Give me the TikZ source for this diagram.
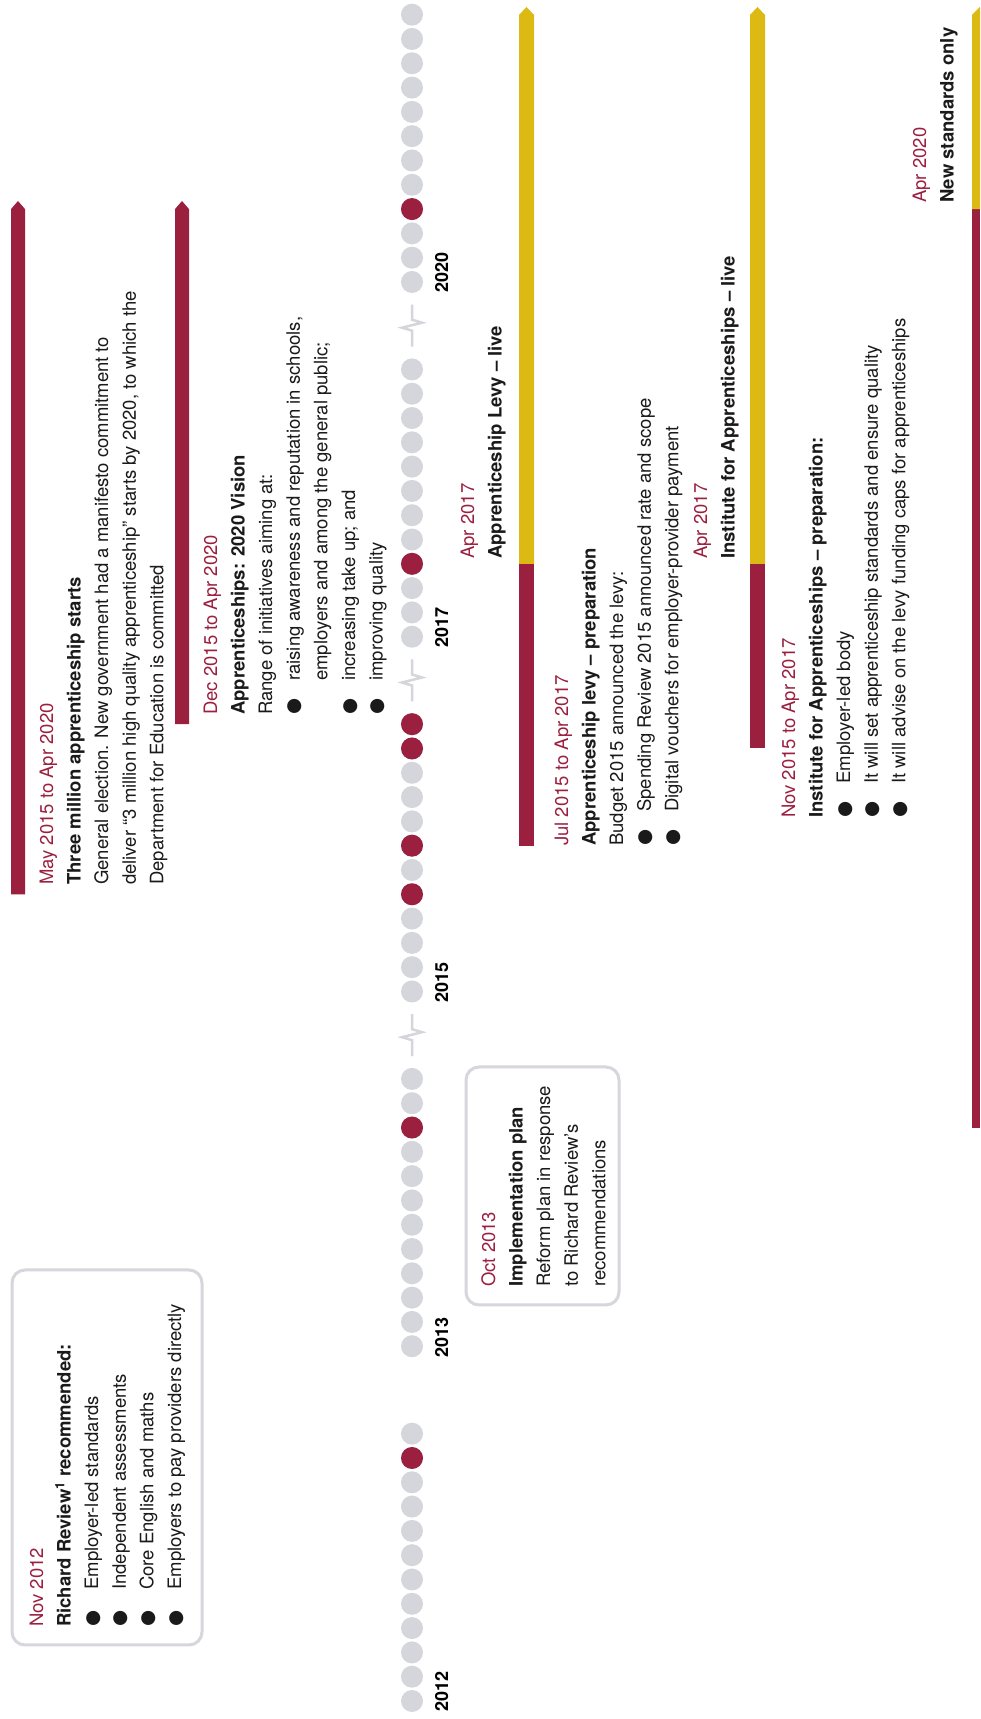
\documentclass[tikz,border=0pt]{standalone}
\usepackage{fontspec}
\setmainfont{TeX Gyre Heros}
\newfontfamily\dejavu{DejaVu Sans}
\usetikzlibrary{backgrounds}
\definecolor{dred}{HTML}{9B2040}
\definecolor{lred}{HTML}{A8334F}
\definecolor{dgold}{HTML}{DDB913}
\definecolor{dotgray}{HTML}{D5D5DC}
\definecolor{boxgray}{HTML}{D6D6DD}
\definecolor{ink}{HTML}{1A1A1A}
\newcommand{\li}[2][34pt]{\makebox[#1][l]{{\dejavu ●}}#2}
\newcommand{\dt}[1]{\textcolor{dred}{#1}}
\tikzset{
  gdot/.style={circle, fill=dotgray, minimum size=22pt, inner sep=0pt},
  rdot/.style={circle, fill=dred, minimum size=22pt, inner sep=0pt},
  conn/.style={draw=lred, line width=1.4pt},
  txt/.style={anchor=base west, inner sep=0pt, align=left, text=ink, font=\fontsize{18.5}{27.6}\selectfont},
  yearlbl/.style={anchor=base west, inner sep=0pt, text=black, font=\bfseries\fontsize{18}{20}\selectfont},
  rbox/.style={draw=boxgray, line width=3pt, rounded corners=13pt, fill=white, inner sep=0pt},
  brk/.style={draw=dotgray, line width=2.5pt, line join=miter},
}
\begin{document}
\begin{tikzpicture}[x=1pt,y=1pt]
\fill[white] (0,0) rectangle (980,1719);
\useasboundingbox (0,0) rectangle (980,1719);
\begin{scope}[rotate=90, transform shape]
  % ---- grey month dots ----
  \foreach \k/\j in {0/18,1/372.75,2/727.5,3/1082.25,4/1437}{
    \foreach \m in {0,...,11}{
      \node[gdot] (g\k-\m) at ({\j+24.3*\m},-412) {};
    }
  }
  % ---- red event dots ----
  \node[rdot] (d2012nov) at (261,-412) {};
  \node[rdot] (d2013oct) at (591.45,-412) {};
  \node[rdot] (d2015may) at (824.7,-412) {};
  \node[rdot] (d2015jul) at (873.3,-412) {};
  \node[rdot] (d2015nov) at (970.5,-412) {};
  \node[rdot] (d2015dec) at (994.8,-412) {};
  \node[rdot] (d2017apr) at (1155.15,-412) {};
  \node[rdot] (d2020apr) at (1509.9,-412) {};
  % ---- year labels ----
  \node[yearlbl] (y2012) at (7,-448) {2012};
  \node[yearlbl] (y2013) at (361.75,-448) {2013};
  \node[yearlbl] (y2015) at (716.5,-448) {2015};
  \node[yearlbl] (y2017) at (1071.25,-448) {2017};
  \node[yearlbl] (y2020) at (1426,-448) {2020};
  % ---- breaks ----
  \foreach \b in {683.8,1038.5,1393.3}{
    \draw[brk] (\b-21,-412) -- (\b-5,-412) -- (\b-2,-402) -- (\b+3,-422) -- (\b+6,-412) -- (\b+21,-412);
  }
  % ---- boxes ----
  \node[rbox, minimum width=375pt, minimum height=190pt] (box2012) at (261.5,-107) {};
  \node[rbox, minimum width=238pt, minimum height=153pt] (box2013) at (533,-542.5) {};
  % ---- connector end points ----
  \coordinate (e2012) at (261,-202);
  \coordinate (e2013a) at (591.45,-466);
  \coordinate (e2013b) at (591.45,-619);
  \coordinate (e2013c) at (591.45,-972);
  \coordinate (emay) at (824.7,-25);
  \coordinate (ejul) at (873.3,-519);
  \coordinate (enova) at (970.5,-548);
  \coordinate (enovb) at (970.5,-690);
  \coordinate (enovc) at (970.5,-750);
  \coordinate (edec) at (994.8,-189);
  \coordinate (eapra) at (1155.15,-548);
  \coordinate (eaprb) at (1155.15,-690);
  \coordinate (eaprc) at (1155.15,-750);
  \coordinate (e20a) at (1509.9,-25);
  \coordinate (e20b) at (1509.9,-972);
  \begin{scope}[on background layer]
    \draw[conn] (e2012) -- (d2012nov.center);
    \draw[conn] (d2013oct.center) -- (e2013a);
    \draw[conn] (e2013b) -- (e2013c);
    \draw[conn] (emay) -- (d2015may.center);
    \draw[conn] (d2015jul.center) -- (ejul);
    \draw[conn] (d2015nov.center) -- (enova);
    \draw[conn] (enovb) -- (enovc);
    \draw[conn] (edec) -- (d2015dec.center);
    \draw[conn] (d2017apr.center) -- (eapra);
    \draw[conn] (eaprb) -- (eaprc);
    \draw[conn] (e20a) -- (d2020apr.center) -- (e20b);
  \end{scope}
  % ---- bars ----
  \fill[dred] (824.7,-11) -- (1509.9,-11) -- (1518,-18) -- (1509.9,-25) -- (824.7,-25) -- cycle;
  \fill[dred] (994.8,-175) -- (1509.9,-175) -- (1518,-182) -- (1509.9,-189) -- (994.8,-189) -- cycle;
  \fill[dred] (873.3,-519) rectangle (1155.15,-534);
  \fill[dgold] (1155.15,-519) -- (1704,-519) -- (1712,-526.5) -- (1704,-534) -- (1155.15,-534) -- cycle;
  \fill[dred] (970.5,-750) rectangle (1155.15,-765);
  \fill[dgold] (1155.15,-750) -- (1704,-750) -- (1712,-757.5) -- (1704,-765) -- (1155.15,-765) -- cycle;
  \fill[dred] (591.45,-972) rectangle (1509.9,-980);
  \fill[dgold] (1509.9,-972) -- (1704,-972) -- (1712,-980) -- (1509.9,-980) -- cycle;
  % ---- texts (anchor = baseline of the LAST line) ----
  \node[txt] (t2012) at (92,-181) {\dt{Nov 2012}\\
    \textbf{Richard Review\textsuperscript{1} recommended:}\\
    \li[37pt]{Employer-led standards}\\
    \li[37pt]{Independent assessments}\\
    \li[37pt]{Core English and maths}\\
    \li[37pt]{Employers to pay providers directly}};
  \node[txt] (t2013) at (432,-605.4) {\dt{Oct 2013}\\
    \textbf{Implementation plan}\\
    Reform plan in response\\
    to Richard Review’s\\
    recommendations};
  \node[txt] (t2015may) at (834,-163.4) {\dt{May 2015 to Apr 2020}\\
    \textbf{Three million apprenticeship starts}\\
    General election. New government had a manifesto commitment to\\
    deliver “3 million high quality apprenticeship” starts by 2020, to which the\\
    Department for Education is committed};
  \node[txt] (t2015dec) at (1004,-382.6) {\dt{Dec 2015 to Apr 2020}\\
    \textbf{Apprenticeships: 2020 Vision}\\
    Range of initiatives aiming at:\\
    \li{raising awareness and reputation in schools,}\\
    \hspace*{34pt}employers and among the general public;\\
    \li{increasing take up; and}\\
    \li{improving quality}};
  \node[txt] (t2015jul) at (873,-678.4) {\dt{Jul 2015 to Apr 2017}\\
    \textbf{Apprenticeship levy – preparation}\\
    Budget 2015 announced the levy:\\
    \li{Spending Review 2015 announced rate and scope}\\
    \li{Digital vouchers for employer-provider payment}};
  \node[txt] (t2017levy) at (1160,-501.6) {\dt{Apr 2017}\\
    \textbf{Apprenticeship Levy – live}};
  \node[txt] (t2017inst) at (1160,-734.6) {\dt{Apr 2017}\\
    \textbf{Institute for Apprenticeships – live}};
  \node[txt] (t2015nov) at (901,-905.4) {\dt{Nov 2015 to Apr 2017}\\
    \textbf{Institute for Apprenticeships – preparation:}\\
    \li{Employer-led body}\\
    \li{It will set apprenticeship standards and ensure quality}\\
    \li{It will advise on the levy funding caps for apprenticeships}};
  \node[txt] (t2020) at (1516,-953.6) {\dt{Apr 2020}\\
    \textbf{New standards only}};
\end{scope}
\end{tikzpicture}
\end{document}
